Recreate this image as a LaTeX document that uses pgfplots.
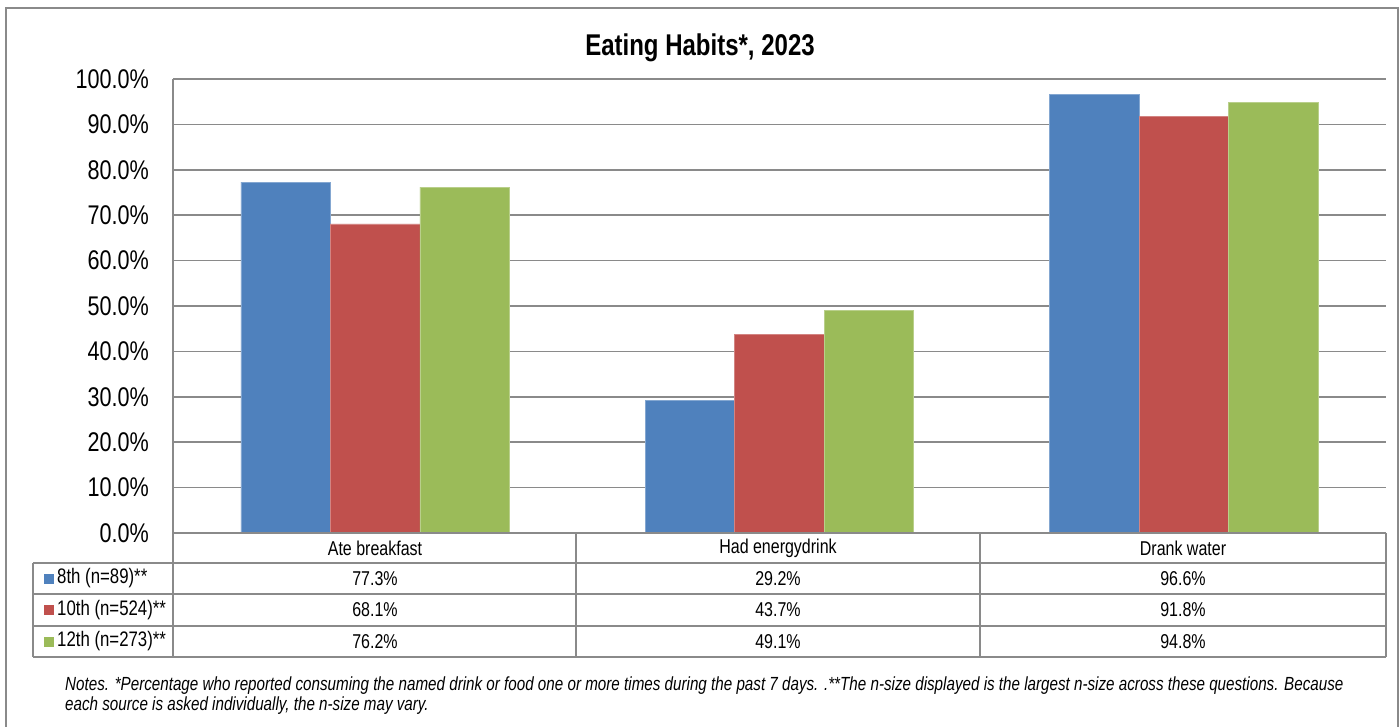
\documentclass[border=0pt]{standalone}
\usepackage{pgfplots}
\pgfplotsset{compat=1.18}
\usepackage{fontspec}
\setmainfont{Liberation Sans}[FakeStretch=0.8]
\definecolor{cblue}{HTML}{4F81BD}
\definecolor{cred}{HTML}{C0504D}
\definecolor{cgreen}{HTML}{9BBB59}
\definecolor{gridgray}{HTML}{8A8A8A}
\begin{document}
\begin{tikzpicture}
\path[use as bounding box] (0pt,0pt) rectangle (1400pt,726pt);
\draw[gridgray, line width=1.5pt] (6pt,-10pt) -- (6pt,718pt) -- (1398pt,718pt) -- (1398pt,-10pt);
\node[font=\fontsize{30}{30}\selectfont\bfseries] at (700pt,678pt) {Eating Habits*, 2023};
\begin{axis}[
  at={(173pt,193pt)}, anchor=south west,
  width=1213pt, height=454pt, scale only axis,
  xmin=-0.5, xmax=2.5, ymin=0, ymax=100,
  ybar=0pt, bar width=89.5pt,
  xtick=\empty,
  ytick={0,10,...,100},
  yticklabel={\pgfmathprintnumber[fixed,fixed zerofill,precision=1]{\tick}\%},
  /pgf/number format/assume math mode=true,
  yticklabel style={font=\fontsize{27}{27}\selectfont, inner sep=0pt, xshift=-24pt},
  major tick length=0pt,
  axis x line=bottom, axis y line=left,
  axis line style={-, draw=gridgray, line width=1.5pt},
  ymajorgrids, grid style={gridgray, line width=1.5pt},
  clip=false,
]
\addplot[fill=cblue, draw=cblue!70!white, line width=0.6pt] coordinates {(0,77.3) (1,29.2) (2,96.6)};
\addplot[fill=cred, draw=cred!70!white, line width=0.6pt] coordinates {(0,68.1) (1,43.7) (2,91.8)};
\addplot[fill=cgreen, draw=cgreen!70!white, line width=0.6pt] coordinates {(0,76.2) (1,49.1) (2,94.8)};
\end{axis}
% data table
\begin{scope}[gridgray, line width=1.5pt]
\draw (173pt,193pt) -- (1386pt,193pt);
\draw (33pt,163pt) -- (1386pt,163pt);
\draw (33pt,132pt) -- (1386pt,132pt);
\draw (33pt,100pt) -- (1386pt,100pt);
\draw (33pt,69pt) -- (1386pt,69pt);
\draw (33pt,163pt) -- (33pt,69pt);
\draw (173pt,193pt) -- (173pt,69pt);
\draw (576pt,193pt) -- (576pt,69pt);
\draw (980pt,193pt) -- (980pt,69pt);
\draw (1386pt,193pt) -- (1386pt,69pt);
\end{scope}
\begin{scope}[every node/.style={font=\fontsize{20}{20}\selectfont, inner sep=0pt}]
\node at (375pt,178pt) {Ate breakfast};
\node at (778pt,178pt) {Had energydrink};
\node at (1183pt,178pt) {Drank water};
\node at (375pt,147.5pt) {77.3\%};
\node at (778pt,147.5pt) {29.2\%};
\node at (1183pt,147.5pt) {96.6\%};
\node at (375pt,116pt) {68.1\%};
\node at (778pt,116pt) {43.7\%};
\node at (1183pt,116pt) {91.8\%};
\node at (375pt,84.5pt) {76.2\%};
\node at (778pt,84.5pt) {49.1\%};
\node at (1183pt,84.5pt) {94.8\%};
\end{scope}
\begin{scope}[every node/.style={font=\fontsize{21}{21}\selectfont, inner sep=0pt, anchor=west}]
\node at (57pt,147.5pt) {8th (n=89)**};
\node at (57pt,116pt) {10th (n=524)**};
\node at (57pt,84.5pt) {12th (n=273)**};
\end{scope}
\fill[cblue] (44pt,142.5pt) rectangle (54pt,152.5pt);
\fill[cred] (44pt,111pt) rectangle (54pt,121pt);
\fill[cgreen] (44pt,79.5pt) rectangle (54pt,89.5pt);
\begin{scope}[every node/.style={anchor=base west, inner sep=0pt, font=\fontsize{19}{19}\selectfont\itshape}]
\node at (65pt,36pt) {Notes. *Percentage who reported consuming the named drink or food one or more times during the past 7 days. .**The n-size displayed is the largest n-size across these questions. Because};
\node at (65pt,16pt) {each source is asked individually, the n-size may vary.};
\end{scope}
\end{tikzpicture}
\end{document}
